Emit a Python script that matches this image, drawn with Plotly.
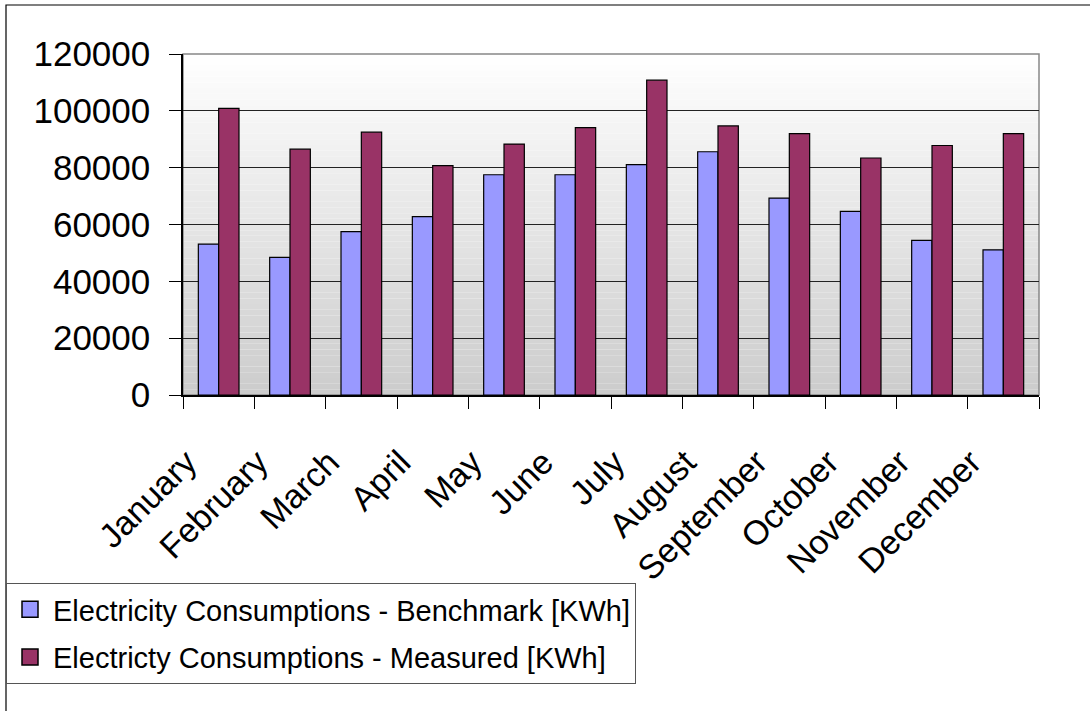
import plotly.graph_objects as go

months = ["January", "February", "March", "April", "May", "June", "July",
          "August", "September", "October", "November", "December"]
benchmark = [53100, 48400, 57500, 62800, 77500, 77500, 81100, 85600, 69300, 64600, 54400, 51100]
measured = [100900, 86500, 92500, 80700, 88300, 94100, 110800, 94700, 92000, 83400, 87800, 92000]
name_bench = "Electricity Consumptions - Benchmark [KWh]"
name_meas = "Electricty Consumptions - Measured [KWh]"
y_ticks = [0, 20000, 40000, 60000, 80000, 100000, 120000]

FONT = "Liberation Sans, Arial, sans-serif"
C_BENCH = "#9999ff"
C_MEAS = "#993366"

fig = go.Figure()
fig.add_trace(go.Bar(x=months, y=benchmark, name=name_bench, showlegend=False,
                     marker=dict(color=C_BENCH, line=dict(color="#000000", width=1.2))))
fig.add_trace(go.Bar(x=months, y=measured, name=name_meas, showlegend=False,
                     marker=dict(color=C_MEAS, line=dict(color="#000000", width=1.2))))
# legend entries (square swatches)
for nm, col, grp in [(name_bench, C_BENCH, "a"), (name_meas, C_MEAS, "b")]:
    fig.add_trace(go.Scatter(x=[None], y=[None], mode="markers", name=nm, legendgroup=grp,
                             marker=dict(symbol="square", size=16, color=col,
                                         line=dict(color="#000000", width=1.5))))

shapes = []
# gradient background bands
n = 60
top = 120000
for i in range(n):
    y0 = top * i / n
    y1 = top * (i + 1) / n
    t = (i + 0.5) / n
    c = int(round(0xcc + (0xff - 0xcc) * t))
    shapes.append(dict(type="rect", xref="paper", yref="y", x0=0, x1=1, y0=y0, y1=y1,
                       fillcolor=f"rgb({c},{c},{c})", line=dict(width=0), layer="below"))
# plot area frame (grey, top & right)
shapes.append(dict(type="rect", xref="paper", yref="paper", x0=0, x1=1, y0=0, y1=1,
                   line=dict(color="#888888", width=1.5), layer="below"))
# outer chart border
L, R, T, B = 183, 51, 54, 316
pw = 1090 - L - R
ph = 711 - T - B
def px_x(x):
    return (x - L) / pw
def px_y(y):
    return (711 - B - y) / ph
shapes.append(dict(type="rect", xref="paper", yref="paper",
                   x0=px_x(6), x1=px_x(1100), y0=px_y(720), y1=px_y(5),
                   line=dict(color="#000000", width=1.2), fillcolor="rgba(0,0,0,0)", layer="above"))

fig.update_layout(
    width=1090, height=711,
    margin=dict(l=L, r=R, t=T, b=B, autoexpand=False),
    paper_bgcolor="white", plot_bgcolor="white",
    barmode="group", bargap=0.43, bargroupgap=0.0,
    font=dict(family=FONT, color="#000000"),
    shapes=shapes,
    showlegend=True,
    legend=dict(x=px_x(6), y=px_y(583), xanchor="left", yanchor="top",
                bgcolor="white", bordercolor="#555555", borderwidth=1,
                font=dict(family=FONT, size=29, color="#000000"),
                traceorder="grouped", tracegroupgap=7,
                itemsizing="trace", itemwidth=36),
    xaxis=dict(type="category", tickson="boundaries", ticks="outside", ticklen=12,
               tickcolor="#000000", tickwidth=1.2, showline=True, linecolor="#000000",
               linewidth=1.5, showgrid=False, tickangle=-45,
               ticklabelstandoff=32, ticklabelshift=-32,
               tickfont=dict(family=FONT, size=34, color="#000000")),
    yaxis=dict(range=[0, 120000], tickvals=y_ticks, ticktext=[str(v) for v in y_ticks],
               ticks="outside", ticklen=12, tickcolor="#000000", tickwidth=1.2,
               showline=True, linecolor="#000000", linewidth=1.5,
               showgrid=True, gridcolor="#222222", gridwidth=1.2, zeroline=False,
               ticklabelstandoff=12,
               tickfont=dict(family=FONT, size=35, color="#000000")),
)

fig.write_html("out.html", config={"displayModeBar": False},
               post_script="document.body.style.margin='0px';")
